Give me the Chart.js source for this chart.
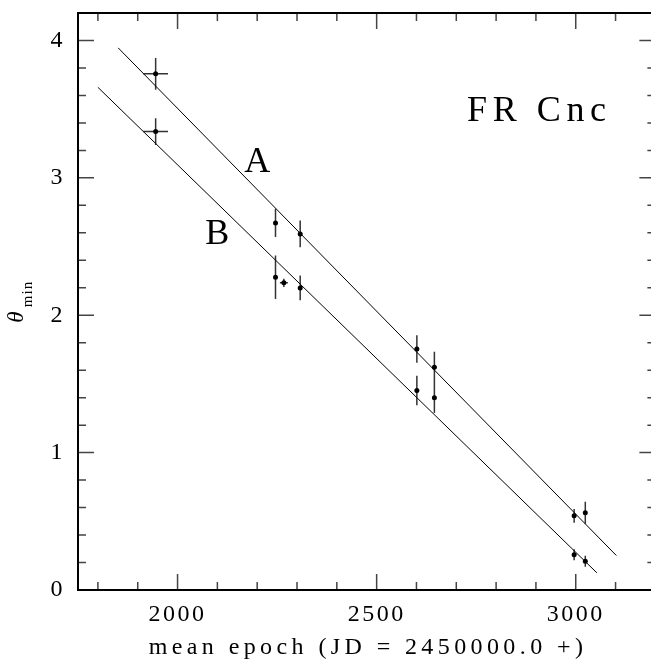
<!DOCTYPE html>
<html lang="en">
  <head>
    <meta charset="UTF-8" />
    <title>FR Cnc - theta min</title>
    <style>
      * {
        margin: 0;
        padding: 0;
        box-sizing: border-box;
      }
      body {
        background: #fff;
      }
      .chart-box {
        width: 651px;
        height: 663px;
        position: relative;
      }
    </style>
    <script src="https://cdn.jsdelivr.net/npm/chart.js"></script>
  </head>
  <body>
    <div class="chart-box"><canvas id="thetaChart"></canvas></div>
    <script>
      // spot A
      const epochA = [1945, 2246, 2308, 2601, 2645, 2996, 3024];
      const thetaA = [3.757, 2.672, 2.592, 1.755, 1.622, 0.54, 0.562];
      const errThetaA = [0.116, 0.103, 0.098, 0.1, 0.113, 0.05, 0.08];
      const errEpochA = [31, 0, 0, 0, 0, 0, 0];

      // spot B
      const epochB = [1945, 2246, 2267, 2308, 2601, 2645, 2996, 3024];
      const thetaB = [3.337, 2.277, 2.236, 2.199, 1.452, 1.399, 0.256, 0.21];
      const errThetaB = [0.097, 0.158, 0.03, 0.09, 0.107, 0.11, 0.04, 0.04];
      const errEpochB = [31, 0, 10, 0, 0, 0, 0, 0];

      // linear fits (end points)
      const fitEpochA = [1851, 3102];
      const fitThetaA = [3.946, 0.251];
      const fitEpochB = [1800, 3053];
      const fitThetaB = [3.659, 0.125];

      const xMajorTicks = [2000, 2500, 3000];
      const yMajorTicks = [0, 1, 2, 3, 4];
      // the plot frame ends at 3200, just past the picture's right edge
      const xFrameEnd = 3200;

      const notes = [
        { text: "FR Cnc", x: 2727, y: 3.412, align: "left" },
        { text: "A", x: 2200, y: 3.046, align: "center" },
        { text: "B", x: 2100, y: 2.515, align: "center" },
      ];

      const FONT = "'Liberation Serif', 'Times New Roman', serif";
      const isInt = v => Math.abs(v - Math.round(v)) < 1e-6;
      const toPoints = (xs, ys) => xs.map((x, i) => ({ x, y: ys[i] }));

      const errorBars = {
        id: "errorBars",
        beforeDatasetsDraw(chart) {
          const { ctx, scales: { x, y } } = chart;
          ctx.save();
          ctx.strokeStyle = "#333";
          ctx.lineWidth = 1.5;
          ctx.beginPath();
          const draw = (xs, ys, ey, ex) => {
            xs.forEach((v, i) => {
              const px = x.getPixelForValue(v);
              const py = y.getPixelForValue(ys[i]);
              ctx.moveTo(px, y.getPixelForValue(ys[i] + ey[i]));
              ctx.lineTo(px, y.getPixelForValue(ys[i] - ey[i]));
              if (ex[i] > 0) {
                ctx.moveTo(x.getPixelForValue(v - ex[i]), py);
                ctx.lineTo(x.getPixelForValue(v + ex[i]), py);
              }
            });
          };
          draw(epochA, thetaA, errThetaA, errEpochA);
          draw(epochB, thetaB, errThetaB, errEpochB);
          ctx.stroke();
          ctx.restore();
        },
      };

      const frameTicks = {
        id: "frameTicks",
        beforeDraw(chart) {
          chart.ctx.letterSpacing = "2.5px";
        },
        afterDraw(chart) {
          const { ctx, chartArea: a, scales: { x, y } } = chart;
          const right = x.getPixelForValue(xFrameEnd);
          ctx.save();
          ctx.strokeStyle = "#444";
          ctx.lineWidth = 1.5;
          ctx.beginPath();
          for (let v = 1800; v <= xFrameEnd; v += 100) {
            const px = x.getPixelForValue(v);
            const len = xMajorTicks.includes(v) ? 16 : 8;
            ctx.moveTo(px, a.bottom);
            ctx.lineTo(px, a.bottom - len);
            ctx.moveTo(px, a.top);
            ctx.lineTo(px, a.top + len);
          }
          y.ticks.forEach(t => {
            const py = y.getPixelForValue(t.value);
            const len = yMajorTicks.some(m => Math.abs(m - t.value) < 1e-6) ? 16 : 8;
            ctx.moveTo(a.left, py);
            ctx.lineTo(a.left + len, py);
            ctx.moveTo(right, py);
            ctx.lineTo(right - len, py);
          });
          ctx.stroke();

          ctx.strokeStyle = "#000";
          ctx.lineWidth = 2;
          ctx.strokeRect(a.left, a.top, right - a.left, a.bottom - a.top);

          // texts inside the plot
          ctx.fillStyle = "#000";
          ctx.textBaseline = "alphabetic";
          ctx.font = "36px " + FONT;
          notes.forEach(n => {
            ctx.letterSpacing = n.text.length > 1 ? "5.6px" : "0px";
            ctx.textAlign = n.align;
            ctx.fillText(n.text, x.getPixelForValue(n.x), y.getPixelForValue(n.y));
          });

          // x axis title
          ctx.font = "24px " + FONT;
          ctx.letterSpacing = "4.4px";
          ctx.textAlign = "center";
          ctx.textBaseline = "middle";
          ctx.fillText("mean epoch (JD = 2450000.0 +)", 368, 648);

          // y axis title: theta with subscript "min"
          ctx.letterSpacing = "0px";
          ctx.save();
          ctx.translate(17, 317);
          ctx.rotate(-Math.PI / 2);
          ctx.font = "italic 23px " + FONT;
          ctx.fillText("\u03b8", 0, 0);
          ctx.restore();
          ctx.save();
          ctx.translate(28, 294);
          ctx.rotate(-Math.PI / 2);
          ctx.font = "15px " + FONT;
          ctx.letterSpacing = "1px";
          ctx.fillText("min", 0, 0);
          ctx.restore();
          ctx.restore();
        },
      };

      const baseTicks = {
        color: "#000",
        font: { family: FONT, size: 24 },
        autoSkip: false,
        maxRotation: 0,
      };

      const noPadding = s => {
        s.paddingTop = 0;
        s.paddingBottom = 0;
        s.paddingLeft = 0;
        s.paddingRight = 0;
      };

      new Chart(document.getElementById("thetaChart"), {
        type: "scatter",
        data: {
          datasets: [
            {
              label: "A",
              data: toPoints(epochA, thetaA),
              pointRadius: 2.5,
              pointBackgroundColor: "#000",
              pointBorderWidth: 0,
            },
            {
              label: "B",
              data: toPoints(epochB, thetaB),
              pointRadius: 2.5,
              pointBackgroundColor: "#000",
              pointBorderWidth: 0,
            },
            {
              label: "fit A",
              data: toPoints(fitEpochA, fitThetaA),
              showLine: true,
              pointRadius: 0,
              borderColor: "#000",
              borderWidth: 1,
            },
            {
              label: "fit B",
              data: toPoints(fitEpochB, fitThetaB),
              showLine: true,
              pointRadius: 0,
              borderColor: "#000",
              borderWidth: 1,
            },
          ],
        },
        options: {
          responsive: true,
          maintainAspectRatio: false,
          animation: false,
          layout: { autoPadding: false, padding: { top: 13, right: 0, left: 0, bottom: 0 } },
          plugins: { legend: { display: false }, tooltip: { enabled: false } },
          scales: {
            x: {
              type: "linear",
              min: 1750,
              max: 3189,
              grid: { display: false, drawTicks: false },
              border: { display: false },
              ticks: {
                ...baseTicks,
                stepSize: 100,
                padding: 10,
                callback: v => (xMajorTicks.includes(v) ? String(v) : ""),
              },
              afterFit: s => {
                s.height = 73;
                noPadding(s);
              },
            },
            y: {
              min: 0,
              max: 4.2,
              grid: { display: false, drawTicks: false },
              border: { display: false },
              ticks: {
                ...baseTicks,
                stepSize: 0.2,
                padding: 13,
                callback: v => (isInt(v) ? String(Math.round(v)) : ""),
              },
              afterFit: s => {
                s.width = 78;
                noPadding(s);
              },
            },
          },
        },
        plugins: [errorBars, frameTicks],
      });
    </script>
  </body>
</html>
